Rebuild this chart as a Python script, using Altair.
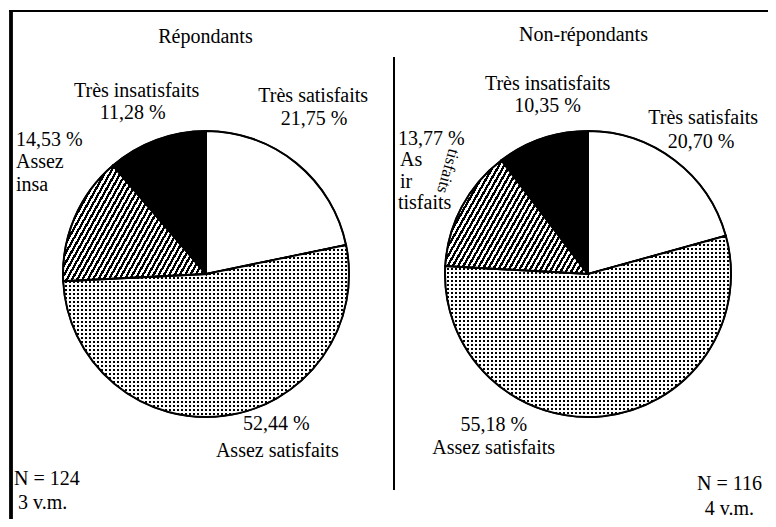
import math
import altair as alt
import pandas as pd

# ---------------- data ----------------
categories = ["Très satisfaits", "Assez satisfaits", "Assez insatisfaits", "Très insatisfaits"]
repondants = [21.75, 52.44, 14.53, 11.28]
non_repondants = [20.70, 55.18, 13.77, 10.35]
panel_titles = ["Répondants", "Non-répondants"]
n_counts = [124, 116]
missing_values = [3, 4]

groups = ["R", "NR"]
series = {"R": repondants, "NR": non_repondants}
rows = []
for g in groups:
    for i, (c, v) in enumerate(zip(categories, series[g])):
        rows.append({"group": g, "cat": c, "idx": i, "value": v})
df = pd.DataFrame(rows)


def pct(v):
    return f"{v:.2f}".replace(".", ",") + " %"


# ---------------- layout (plot coords) ----------------
W, H = 760, 511
centers = {"R": (197, 266), "NR": (579, 266)}
RADIUS = 143
FONT = "Liberation Serif"
FS = 20

labels = [
    # left panel
    (panel_titles[0], 197, 30, "center"),
    (categories[3], 128, 84, "center"),
    (pct(repondants[3]), 124, 107, "center"),
    (categories[0], 305, 90, "center"),
    (pct(repondants[0]), 306, 113, "center"),
    (pct(repondants[2]), 7, 134, "left"),
    ("Assez", 7, 157, "left"),
    ("insa", 7, 180, "left"),
    (pct(repondants[1]), 268, 423, "center"),
    (categories[1], 269, 451, "center"),
    (f"N = {n_counts[0]}", 5, 479, "left"),
    (f"{missing_values[0]} v.m.", 9, 504, "left"),
    # right panel
    (panel_titles[1], 576, 27, "center"),
    (categories[3], 540, 77, "center"),
    (pct(non_repondants[3]), 540, 100, "center"),
    (categories[0], 696, 112, "center"),
    (pct(non_repondants[0]), 694, 136, "center"),
    (pct(non_repondants[2]), 390, 133, "left"),
    ("As", 392, 155, "left"),
    ("ir", 392, 177, "left"),
    ("tisfaits", 390, 199, "left"),
    (pct(non_repondants[1]), 486, 424, "center"),
    (categories[1], 486, 448, "center"),
    (f"N = {n_counts[1]}", 755, 485, "right"),
    (f"{missing_values[1]} v.m.", 747, 510, "right"),
]
lab_df = pd.DataFrame(labels, columns=["text", "x", "y", "align"])
rot_df = pd.DataFrame([{"text": "tisfaits", "x": 440, "y": 166}])


# ---------------- patterns via hard-stop gradients ----------------
def stripes(period, c1, c2, x2, y2, frac=0.5):
    """period given as fraction of the gradient vector (0..1)."""
    stops = []
    k = 0
    while k * period < 1:
        a = k * period
        b = min((k + frac) * period, 1)
        c = min((k + 1) * period, 1)
        stops += [
            {"offset": round(a, 6), "color": c1},
            {"offset": round(b, 6), "color": c1},
            {"offset": round(b, 6), "color": c2},
            {"offset": round(c, 6), "color": c2},
        ]
        k += 1
    return {"gradient": "linear", "x1": 0, "y1": 0, "x2": x2, "y2": y2, "stops": stops}


def slice_bbox(vals, idx, r):
    """bounding box size (w, h) of slice idx of a pie (clockwise from 12 o'clock)."""
    tot = sum(vals)
    a0 = sum(vals[:idx]) / tot * 2 * math.pi
    a1 = sum(vals[: idx + 1]) / tot * 2 * math.pi
    pts = [(0.0, 0.0), (r * math.sin(a0), -r * math.cos(a0)), (r * math.sin(a1), -r * math.cos(a1))]
    for q in range(5):
        a = q * math.pi / 2
        if a0 < a < a1:
            pts.append((r * math.sin(a), -r * math.cos(a)))
    xs_ = [p[0] for p in pts]
    ys_ = [p[1] for p in pts]
    return max(xs_) - min(xs_), max(ys_) - min(ys_)


DOT = 4.0  # dot grid pitch in px
S = 1.25   # hatch vector length (keeps whole bbox inside gradient)
HATCH_PX = 4.6

fills_main, fills_over = {}, {}
for g in groups:
    dw, dh = slice_bbox(series[g], 1, RADIUS)
    hw, hh = slice_bbox(series[g], 2, RADIUS)
    dots_v = stripes(DOT / dw, "white", "black", 1, 0)
    dots_mask = stripes(DOT / dh, "rgba(255,255,255,0)", "white", 0, 1)
    a, b = S, S * 0.45
    norm = math.hypot(a / hw, b / hh)
    length_px = (a * a + b * b) / norm
    hatch = stripes(HATCH_PX / length_px, "white", "black", a, b)
    fills_main[g] = {
        "condition": [
            {"test": "datum.cat === 'Très insatisfaits'", "value": "black"},
            {"test": "datum.cat === 'Assez insatisfaits'", "value": hatch},
            {"test": "datum.cat === 'Assez satisfaits'", "value": dots_v},
        ],
        "value": "white",
    }
    fills_over[g] = {
        "condition": [
            {"test": "datum.cat === 'Assez satisfaits'", "value": dots_mask},
        ],
        "value": "transparent",
    }

base = alt.Chart(df)
layers = []
for g in groups:
    cx, cy = centers[g]
    enc = dict(
        theta=alt.Theta("value:Q", stack=True),
        order=alt.Order("idx:Q"),
        detail="cat:N",
        x=alt.value(cx),
        y=alt.value(cy),
    )
    main = base.transform_filter(f"datum.group === '{g}'").mark_arc(
        outerRadius=RADIUS, stroke="black", strokeWidth=1.5
    ).encode(fill=fills_main[g], **enc)
    over = base.transform_filter(f"datum.group === '{g}'").mark_arc(
        outerRadius=RADIUS, stroke="black", strokeWidth=2
    ).encode(fill=fills_over[g], **enc)
    layers += [main, over]

xs = alt.X("x:Q", scale=alt.Scale(domain=[0, W], nice=False), axis=None)
ys = alt.Y("y:Q", scale=alt.Scale(domain=[0, H], nice=False, reverse=True), axis=None)

for al in ["left", "center", "right"]:
    layers.append(
        alt.Chart(lab_df).transform_filter(f"datum.align === '{al}'").mark_text(
            font=FONT, fontSize=FS, color="black", align=al, baseline="middle"
        ).encode(x=xs, y=ys, text="text:N")
    )
layers.append(
    alt.Chart(rot_df).mark_text(
        font=FONT, fontSize=17, color="black", align="center", baseline="middle", angle=105
    ).encode(x=xs, y=ys, text="text:N")
)

# frame and divider
frame_top = alt.Chart(df).mark_rule(color="black", strokeWidth=2).encode(
    x=alt.value(0), x2=alt.value(W), y=alt.value(3)
)
frame_left = alt.Chart(df).mark_rule(color="black", strokeWidth=2.5).encode(
    x=alt.value(2), y=alt.value(3), y2=alt.value(H)
)
divider = alt.Chart(df).mark_rule(color="black", strokeWidth=2).encode(
    x=alt.value(385), y=alt.value(49), y2=alt.value(482)
)
layers += [frame_top, frame_left, divider]

chart = alt.layer(*layers).properties(
    width=W,
    height=H,
    padding=0,
    autosize=alt.AutoSizeParams(type="fit", contains="padding"),
).configure_view(stroke=None)

chart.save("out.html", embed_options={"renderer": "svg", "actions": False})
